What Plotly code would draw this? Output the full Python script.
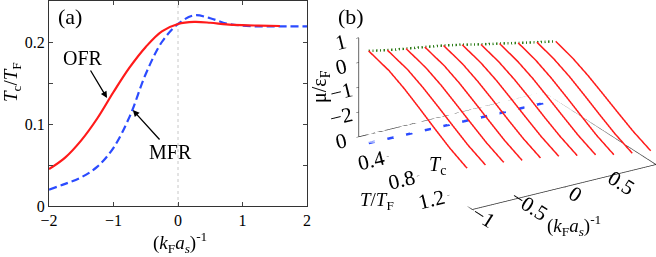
import plotly.graph_objects as go

# ---------------- Panel (a) data ----------------
kfa_ofr = [-2, -1.75, -1.5, -1.25, -1, -0.75, -0.5, -0.25, 0, 0.25, 0.5, 0.75, 1, 1.25, 1.58]
tc_ofr = [0.045, 0.059, 0.080, 0.107, 0.139, 0.169, 0.194, 0.213, 0.222, 0.2245, 0.2235, 0.2215, 0.2205, 0.220, 0.2195]

kfa_mfr = [-2, -1.75, -1.5, -1.25, -1, -0.75, -0.5, -0.25, 0, 0.25, 0.5, 0.75, 1, 1.25, 1.5, 2]
tc_mfr = [0.020, 0.027, 0.035, 0.048, 0.071, 0.109, 0.161, 0.200, 0.222, 0.2325, 0.229, 0.2225, 0.220, 0.219, 0.219, 0.219]

xa_ticks = [-2, -1, 0, 1, 2]
ya_ticks = [0, 0.05, 0.1, 0.15, 0.2]
ya_ticktext = ["0", "", "0.1", "", "0.2"]

# ---------------- Panel (b) data ----------------
kfa_b = [-1, -0.8, -0.6, -0.4, -0.2, 0, 0.2, 0.4, 0.6, 0.8, 1]
tc_b = [0.13, 0.135, 0.14, 0.144, 0.149, 0.153, 0.158, 0.162, 0.166, 0.171, 0.175]
t_grid = [0.4, 0.6, 0.8, 1.0, 1.2, 1.43]
mu_b = [
    [0.72, 0.45, 0.12, -0.28, -0.70, -1.10, -1.47],
    [0.58, 0.32, 0.00, -0.38, -0.78, -1.17, -1.52],
    [0.47, 0.21, -0.10, -0.48, -0.87, -1.25, -1.60],
    [0.36, 0.11, -0.20, -0.58, -0.97, -1.35, -1.70],
    [0.25, 0.00, -0.31, -0.68, -1.07, -1.44, -1.78],
    [0.11, -0.14, -0.44, -0.81, -1.19, -1.56, -1.90],
    [-0.05, -0.30, -0.60, -0.96, -1.35, -1.71, -2.05],
    [-0.19, -0.44, -0.74, -1.11, -1.49, -1.86, -2.20],
    [-0.34, -0.59, -0.90, -1.27, -1.66, -2.04, -2.38],
    [-0.48, -0.73, -1.03, -1.40, -1.79, -2.16, -2.50],
    [-0.62, -0.86, -1.16, -1.52, -1.89, -2.25, -2.58],
]
xb_range = [-1, 1]
tb_range = [0, 1.5]
zb_range = [-3, 1]
xb_ticks = [-1, -0.5, 0, 0.5, 1]
tb_ticks = [0, 0.4, 0.8, 1.2]
tb_ticktext = ["0", "0.4", "0.8", "1.2"]
zb_ticks = [-2, -1, 0, 1]

W, H = 656, 257
FONT = "Liberation Serif, Times New Roman, serif"
RED = "#ff1a1a"
BLUE = "#2b4bff"
GREEN = "#2f7d1a"


def px(x):
    return x / W


def py(y):
    return 1 - y / H


def flip(vals):
    # T axis runs toward the viewer (reversed direction) in panel (b)
    return [-v for v in vals]


fig = go.Figure()

# Panel (a)
fig.add_trace(go.Scatter(x=kfa_mfr, y=tc_mfr, mode="lines", line=dict(color=BLUE, width=2.2, dash="8px,4px", shape="spline"),
                         xaxis="x", yaxis="y", hoverinfo="skip"))
fig.add_trace(go.Scatter(x=kfa_ofr, y=tc_ofr, mode="lines", line=dict(color=RED, width=2.2, shape="spline"),
                         xaxis="x", yaxis="y", hoverinfo="skip"))

# Panel (b): box outline from axis ranges
bx = [xb_range[0], xb_range[1], xb_range[1], xb_range[0], xb_range[0], xb_range[0], xb_range[0]]
by = [tb_range[0], tb_range[0], tb_range[1], tb_range[1], tb_range[0], tb_range[0], tb_range[0]]
bz = [zb_range[0]] * 5 + [zb_range[0], zb_range[1]]
fig.add_trace(go.Scatter3d(x=bx, y=flip(by), z=bz, mode="lines", line=dict(color="#333333", width=1.5),
                           scene="scene", hoverinfo="skip", showlegend=False))

# blue Tc line on the floor
fig.add_trace(go.Scatter3d(x=kfa_b, y=flip(tc_b), z=[zb_range[0]] * len(kfa_b), mode="lines",
                           line=dict(color=BLUE, width=5, dash="longdash"), scene="scene", hoverinfo="skip"))
# red mu(T) curves
for k, xv in enumerate(kfa_b):
    ts = [tc_b[k]] + t_grid
    fig.add_trace(go.Scatter3d(x=[xv] * len(ts), y=flip(ts), z=mu_b[k], mode="lines",
                               line=dict(color=RED, width=3), scene="scene", hoverinfo="skip"))
# green mu(Tc) line
fig.add_trace(go.Scatter3d(x=kfa_b, y=flip(tc_b), z=[row[0] for row in mu_b], mode="lines",
                           line=dict(color=GREEN, width=5, dash="dash"), scene="scene", hoverinfo="skip"))

axis3d = dict(showbackground=False, showgrid=False, zeroline=False, showline=False, showspikes=False,
              ticks="outside", ticklen=3, tickcolor="#333", title=dict(text=""),
              tickfont=dict(family=FONT, size=16, color="black"))

d = (-0.483, -0.781, 0.396)
kd = 3.0
s = 1.68
cen = (-0.125, 0.077, -0.232)
fig.update_layout(
    width=W, height=H, margin=dict(l=0, r=0, t=0, b=0, autoexpand=False),
    paper_bgcolor="white", plot_bgcolor="white", showlegend=False,
    font=dict(family=FONT, size=16, color="black"),
    xaxis=dict(domain=[px(49), px(307)], range=[-2, 2], tickvals=xa_ticks, ticks="inside", ticklen=4,
               showline=True, mirror="ticks", linecolor="#333", linewidth=1, showgrid=False, zeroline=False,
               tickfont=dict(family=FONT, size=16), anchor="y"),
    yaxis=dict(domain=[py(206), py(1)], range=[0, 0.25], tickvals=ya_ticks, ticktext=ya_ticktext, ticks="inside",
               ticklen=4, showline=True, mirror="ticks", linecolor="#333", linewidth=1, showgrid=False,
               zeroline=False, tickfont=dict(family=FONT, size=16), anchor="x"),
    scene=dict(
        domain=dict(x=[0.49, 1.0], y=[0.0, 1.0]),
        xaxis=dict(axis3d, range=xb_range, tickvals=xb_ticks),
        yaxis=dict(axis3d, range=[-tb_range[1], -tb_range[0]], tickvals=flip(tb_ticks), ticktext=tb_ticktext),
        zaxis=dict(axis3d, range=zb_range, tickvals=zb_ticks),
        aspectmode="manual", aspectratio=dict(x=1 * s, y=1 * s, z=0.5 * s),
        camera=dict(eye=dict(x=cen[0] + d[0] * kd, y=cen[1] + d[1] * kd, z=cen[2] + d[2] * kd),
                    up=dict(x=0, y=0, z=1),
                    center=dict(x=cen[0], y=cen[1], z=cen[2]), projection=dict(type="orthographic")),
    ),
    shapes=[dict(type="line", xref="x", yref="y domain", x0=0, x1=0, y0=0, y1=1,
                 line=dict(color="#c8c8c8", width=1, dash="dot"), layer="below")],
)

ann = [
    dict(text="(a)", x=px(69.5), y=py(16), size=22),
    dict(text="(b)", x=px(351.5), y=py(17), size=22),
    dict(text="<i>T</i><sub>c</sub>/<i>T</i><sub>F</sub>", x=px(12), y=py(82), size=19, angle=-90),
    dict(text="(<i>k</i><sub>F</sub><i>a<sub>s</sub></i>)<sup>-1</sup>", x=px(180), y=py(242), size=19),
    dict(text="μ/ε<sub>F</sub>", x=px(320), y=py(87), size=20, angle=-90),
    dict(text="<i>T</i>/<i>T</i><sub>F</sub>", x=px(377), y=py(201), size=19),
    dict(text="(<i>k</i><sub>F</sub><i>a<sub>s</sub></i>)<sup>-1</sup>", x=px(574), y=py(225), size=19),
]
annotations = []
for a in ann:
    annotations.append(dict(text=a["text"], x=a["x"], y=a["y"], xref="paper", yref="paper", showarrow=False,
                            xanchor="center", yanchor="middle", textangle=a.get("angle", 0),
                            font=dict(family=FONT, size=a["size"], color="black")))
# arrows with labels
annotations.append(dict(text="OFR", x=-1.10, y=0.1317, xref="x", yref="y", showarrow=True, ax=-24, ay=-40,
                        arrowhead=2, arrowsize=1, arrowwidth=1.3, arrowcolor="black",
                        font=dict(family=FONT, size=20, color="black")))
annotations.append(dict(text="MFR", x=-0.70, y=0.117, xref="x", yref="y", showarrow=True, ax=38, ay=42,
                        arrowhead=2, arrowsize=1, arrowwidth=1.3, arrowcolor="black",
                        font=dict(family=FONT, size=20, color="black")))
annotations.append(dict(text="<i>T</i><sub>c</sub>", x=px(410), y=py(142), xref="paper", yref="paper",
                        showarrow=True, ax=27, ay=23, arrowhead=2, arrowsize=1, arrowwidth=1.3,
                        arrowcolor="black", font=dict(family=FONT, size=20, color="black")))
fig.update_layout(annotations=annotations)

fig.write_html(
    "out.html",
    config={"displayModeBar": False},
    post_script="document.body.style.margin='0';document.body.style.padding='0';"
                "document.documentElement.style.overflow='hidden';",
)
